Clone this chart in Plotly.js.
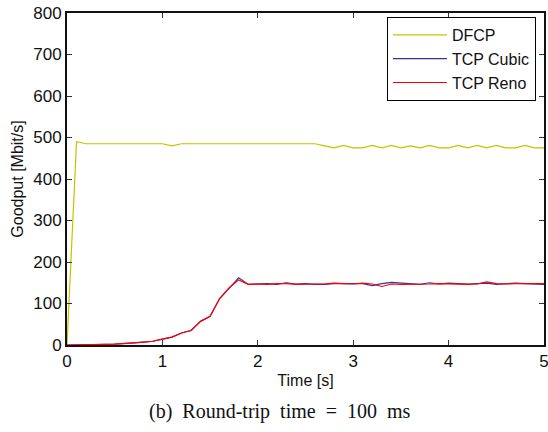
<!DOCTYPE html>
<html>
<head>
<meta charset="utf-8">
<script src="https://cdn.plot.ly/plotly-3.0.1.min.js"></script>
<style>html,body{margin:0;padding:0;background:#fff;}#chart{width:548px;height:432px;}</style>
</head>
<body>
<div id="chart"></div>
<script>
// Time axis (s), sampled every 0.1 s
const time = [0.0,0.1,0.2,0.3,0.4,0.5,0.6,0.7,0.8,0.9,1.0,1.1,1.2,1.3,1.4,1.5,1.6,1.7,1.8,1.9,2.0,2.1,2.2,2.3,2.4,2.5,2.6,2.7,2.8,2.9,3.0,3.1,3.2,3.3,3.4,3.5,3.6,3.7,3.8,3.9,4.0,4.1,4.2,4.3,4.4,4.5,4.6,4.7,4.8,4.9,5.0];

const dfcp = [0,490,485,485,485,485,485,485,485,485,485,480,485,485,485,485,485,485,485,485,485,485,485,485,485,485,485,480,475,481,475,475,481,475,481,475,480,475,481,475,475,481,475,481,475,481,475,475,481,475,475];

const tcpCubic = [0,0,0.5,1,1.5,2,3,5,7,9,14,19,29,35,57,69,112,138,162,146,147,148,146,150,147,148,146,146,148,148,147,148,143,148,151,149,147,146,150,147,149,148,147,148,149,146,147,149,148,147,146];

const tcpReno = [0,0,0.5,1,1.5,2,3,5,7,9,14,19,29,35,57,69,112,138,157,146,147,146,148,148,146,147,147,147,149,148,147,149,147,141,147,146,146,147,147,148,147,147,146,147,152,148,147,148,148,147,148];

const seriesNames = ["DFCP", "TCP Cubic", "TCP Reno"];
const xTicks = [0,1,2,3,4,5];
const yTicks = [0,100,200,300,400,500,600,700,800];

const traces = [
  {x: time, y: dfcp, name: seriesNames[0], type: "scatter", mode: "lines", line: {color: "#c4c400", width: 1.2}},
  {x: time, y: tcpCubic, name: seriesNames[1], type: "scatter", mode: "lines", line: {color: "#33339a", width: 1.2}},
  {x: time, y: tcpReno, name: seriesNames[2], type: "scatter", mode: "lines", line: {color: "#ff0000", width: 1.2}}
];

const sans = "Liberation Sans, Arial, sans-serif";
const axisCommon = {
  showgrid: false, zeroline: false, showline: true, linecolor: "#111", linewidth: 2,
  mirror: "allticks", ticks: "inside", ticklen: 5, tickcolor: "#333", tickwidth: 1,
  ticklabeloverflow: "allow",
  tickfont: {family: sans, size: 17, color: "#111"}
};

const layout = {
  width: 548, height: 432,
  margin: {l: 67, r: 4, t: 13, b: 87},
  paper_bgcolor: "#fff", plot_bgcolor: "#fff",
  showlegend: true,
  legend: {
    x: 0.983, y: 0.988, xanchor: "right", yanchor: "top",
    bgcolor: "#fff", bordercolor: "#000", borderwidth: 1,
    font: {family: sans, size: 16, color: "#111"},
    tracegroupgap: 0, itemwidth: 54
  },
  xaxis: Object.assign({}, axisCommon, {
    range: [0, 5], tickvals: xTicks, ticktext: xTicks.map(String),
    title: {text: "Time [s]", font: {family: sans, size: 16, color: "#111"}, standoff: 4}
  }),
  yaxis: Object.assign({}, axisCommon, {
    range: [0, 800], tickvals: yTicks, ticktext: yTicks.map(String),
    title: {text: "Goodput [Mbit/s]", font: {family: sans, size: 16, color: "#111"}, standoff: 6}
  }),
  annotations: [{
    text: "(b)\u00a0 Round-trip\u00a0 time\u00a0 =\u00a0 100\u00a0 ms", xref: "paper", yref: "paper",
    x: 0.4465, y: -0.199, xanchor: "center", yanchor: "middle", showarrow: false,
    font: {family: "Liberation Serif, Times New Roman, serif", size: 20, color: "#111"}
  }]
};

Plotly.newPlot("chart", traces, layout, {displayModeBar: false, staticPlot: true});
</script>
</body>
</html>
